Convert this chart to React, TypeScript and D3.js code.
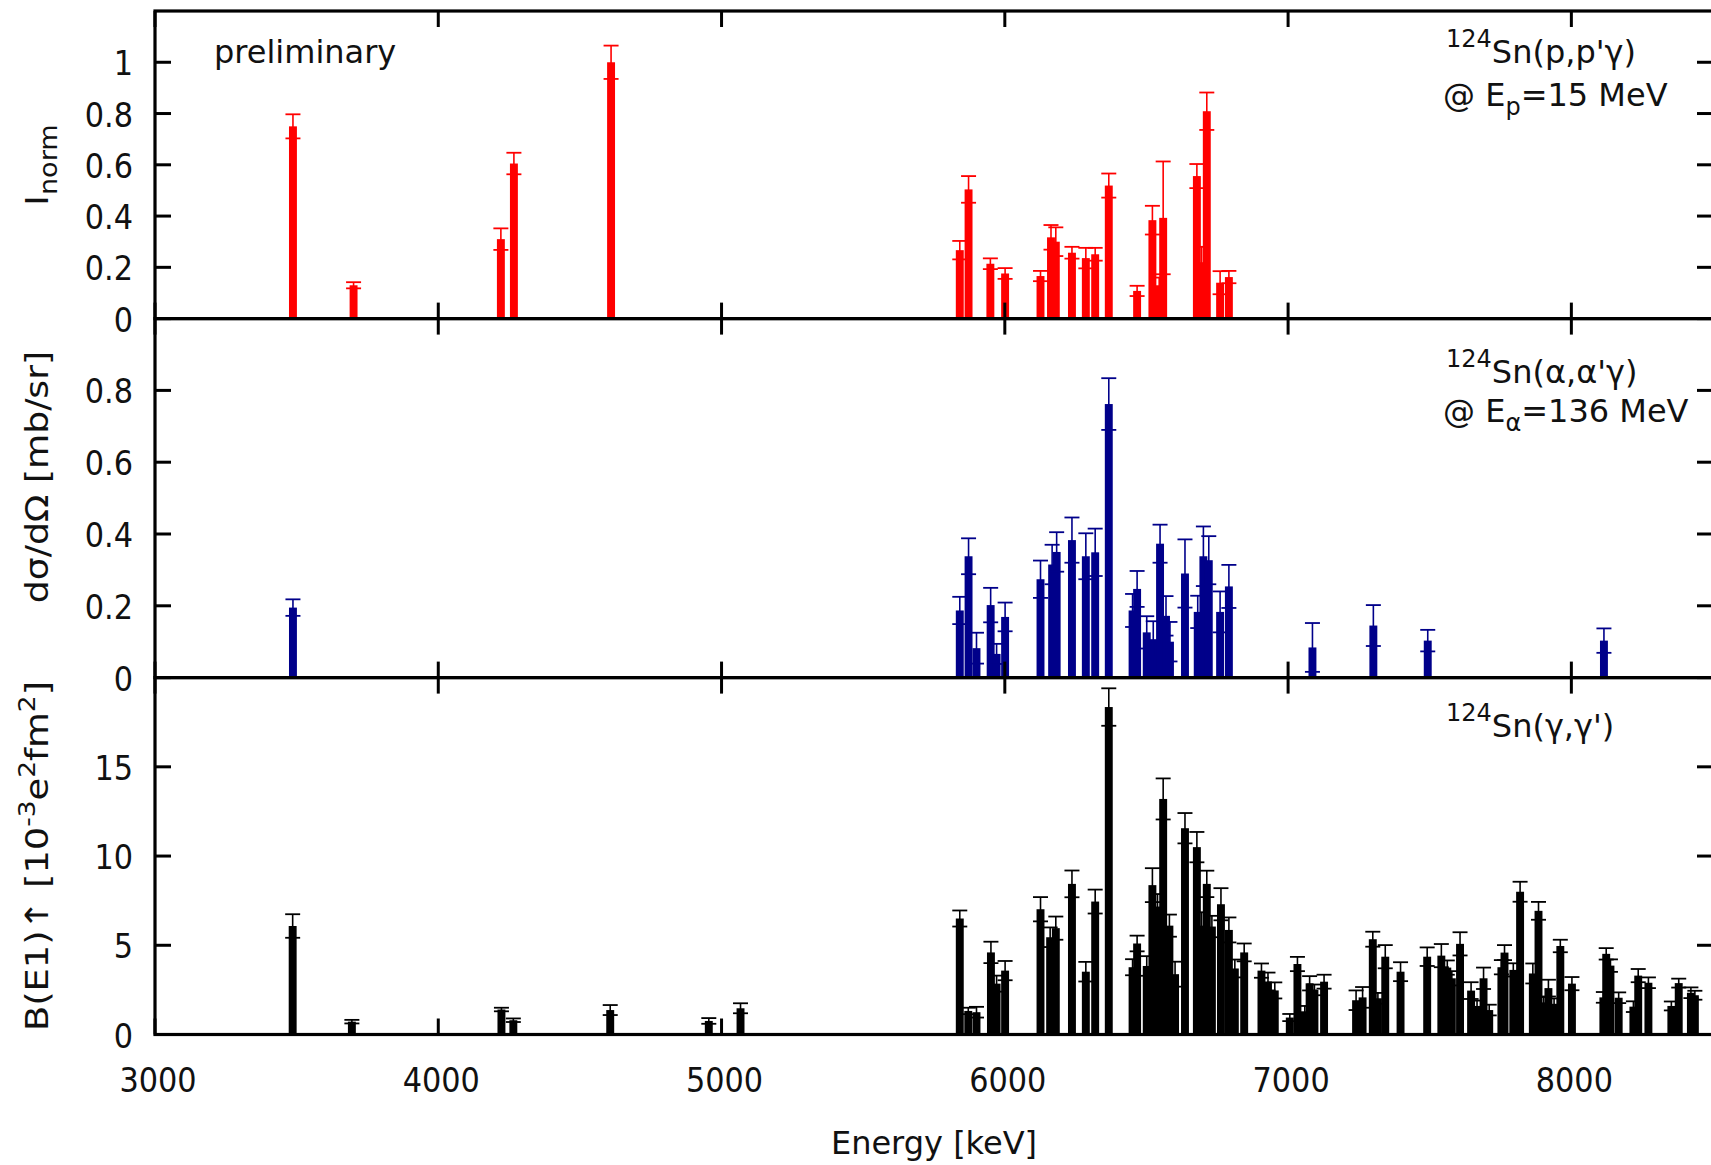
import React from "react";
import * as d3 from "d3";

// 124Sn(p,p'γ) @ Ep = 15 MeV : level energy [keV], normalised intensity, uncertainty
const ppEnergy = [3487, 3701, 4221, 4267, 4610, 5841, 5872, 5949, 6001, 6126, 6163, 6180, 6237, 6286, 6319, 6367, 6467, 6521, 6545, 6559, 6678, 6695, 6713, 6760, 6791];
const ppValue = [0.75, 0.13, 0.31, 0.605, 1.0, 0.267, 0.504, 0.214, 0.176, 0.166, 0.317, 0.3, 0.257, 0.236, 0.251, 0.519, 0.108, 0.384, 0.13, 0.393, 0.556, 0.22, 0.809, 0.14, 0.162];
const ppError = [0.047, 0.012, 0.042, 0.042, 0.065, 0.036, 0.052, 0.021, 0.021, 0.02, 0.048, 0.056, 0.023, 0.04, 0.025, 0.047, 0.02, 0.056, 0.03, 0.22, 0.047, 0.06, 0.073, 0.045, 0.024];

// 124Sn(α,α'γ) @ Eα = 136 MeV : level energy [keV], dσ/dΩ [mb/sr], uncertainty
const aaEnergy = [3487, 5841, 5872, 5900, 5950, 5971, 6001, 6126, 6167, 6183, 6237, 6286, 6319, 6367, 6451, 6467, 6501, 6524, 6548, 6569, 6583, 6636, 6681, 6701, 6720, 6760, 6791, 7086, 7301, 7493, 8115];
const aaValue = [0.195, 0.187, 0.338, 0.082, 0.202, 0.066, 0.169, 0.274, 0.315, 0.35, 0.383, 0.338, 0.349, 0.762, 0.187, 0.247, 0.126, 0.107, 0.373, 0.172, 0.1, 0.29, 0.183, 0.338, 0.327, 0.183, 0.254, 0.084, 0.145, 0.103, 0.103];
const aaError = [0.023, 0.038, 0.05, 0.043, 0.048, 0.028, 0.04, 0.052, 0.055, 0.055, 0.063, 0.064, 0.066, 0.072, 0.046, 0.05, 0.045, 0.05, 0.053, 0.055, 0.055, 0.095, 0.045, 0.083, 0.067, 0.057, 0.06, 0.068, 0.057, 0.03, 0.034];

// 124Sn(γ,γ') : level energy [keV], B(E1)↑ [10^-3 e^2 fm^2], uncertainty
const ggEnergy = [3486, 3695, 4223, 4265, 4607, 4955, 5067, 5841, 5871, 5900, 5951, 5971, 6001, 6126, 6160, 6180, 6237, 6286, 6319, 6367, 6451, 6467, 6501, 6521, 6539, 6559, 6581, 6601, 6636, 6678, 6695, 6713, 6731, 6763, 6791, 6812, 6845, 6906, 6929, 6953, 7006, 7033, 7059, 7076, 7093, 7127, 7240, 7263, 7299, 7317, 7343, 7397, 7491, 7541, 7562, 7578, 7607, 7646, 7667, 7690, 7710, 7753, 7764, 7795, 7819, 7864, 7884, 7902, 7919, 7939, 7961, 8002, 8113, 8123, 8138, 8167, 8219, 8236, 8272, 8353, 8379, 8422, 8436];
const ggValue = [6.08, 0.72, 1.4, 0.8, 1.37, 0.76, 1.47, 6.5, 1.32, 1.25, 4.6, 2.85, 3.58, 7.02, 5.45, 5.96, 8.44, 3.52, 7.45, 18.35, 3.77, 5.1, 3.84, 8.37, 7.17, 13.2, 6.1, 3.38, 11.56, 10.5, 6.1, 8.44, 6.05, 7.3, 5.86, 3.7, 4.6, 3.58, 2.97, 2.47, 0.95, 3.95, 1.3, 2.87, 2.5, 2.96, 1.92, 2.08, 5.34, 2.03, 4.36, 3.52, 4.36, 4.42, 3.75, 3.15, 5.08, 2.46, 1.6, 3.15, 1.37, 3.77, 4.59, 3.62, 8.0, 3.42, 6.93, 1.8, 2.6, 1.72, 4.96, 2.85, 2.08, 4.52, 3.86, 2.06, 1.56, 3.3, 2.9, 1.6, 2.88, 2.34, 2.2];
const ggError = [0.66, 0.1, 0.1, 0.1, 0.28, 0.16, 0.28, 0.45, 0.18, 0.3, 0.6, 0.45, 0.54, 0.68, 0.55, 0.65, 0.75, 0.55, 0.67, 1.05, 0.45, 0.44, 0.55, 0.95, 0.7, 1.15, 0.62, 0.7, 0.85, 0.85, 0.75, 0.74, 0.6, 0.9, 0.7, 0.5, 0.5, 0.4, 0.5, 0.45, 0.2, 0.4, 0.3, 0.4, 0.3, 0.39, 0.55, 0.58, 0.42, 0.3, 0.65, 0.53, 0.52, 0.65, 0.4, 0.4, 0.65, 0.47, 0.3, 0.6, 0.3, 0.4, 0.42, 0.37, 0.56, 0.56, 0.5, 0.3, 0.47, 0.3, 0.35, 0.37, 0.3, 0.32, 0.35, 0.3, 0.3, 0.37, 0.3, 0.25, 0.25, 0.3, 0.25];

// Axis ticks
const energyTicks = [3000, 4000, 5000, 6000, 7000, 8000];
const ppTicks = [0, 0.2, 0.4, 0.6, 0.8, 1];
const aaTicks = [0, 0.2, 0.4, 0.6, 0.8];
const ggTicks = [0, 5, 10, 15];

const W = 1711;
const H = 1165;
const LEFT = 155;
const RIGHT = 1713;
const FONT = "DejaVu Sans";
const BAR_KEV = 28;
const CAP = 15;
const TICK = 16;
const TICK_FONT = 33;
const NARROW = 0.92;

const x = d3.scaleLinear().domain([3000, 8500]).range([LEFT, RIGHT]);

type Panel = {
  top: number;
  bottom: number;
  max: number;
  ticks: number[];
  color: string;
  energy: number[];
  value: number[];
  error: number[];
};

const panels: Panel[] = [
  { top: 11, bottom: 318.6, max: 1.2, ticks: ppTicks, color: "#ff0000", energy: ppEnergy, value: ppValue, error: ppError },
  { top: 318.6, bottom: 677.6, max: 1.0, ticks: aaTicks, color: "#00008a", energy: aaEnergy, value: aaValue, error: aaError },
  { top: 677.6, bottom: 1034.5, max: 20, ticks: ggTicks, color: "#000000", energy: ggEnergy, value: ggValue, error: ggError },
];

function TickLabel({ tx, ty, anchor, label }: { tx: number; ty: number; anchor: string; label: string }) {
  return (
    <text
      transform={`translate(${tx},${ty}) scale(${NARROW},1)`}
      textAnchor={anchor}
      fontFamily={FONT}
      fontSize={TICK_FONT}
      fill="#111"
    >
      {label}
    </text>
  );
}

function PanelView({ p }: { p: Panel }) {
  const y = d3.scaleLinear().domain([0, p.max]).range([p.bottom, p.top]);
  const bw = x(3000 + BAR_KEV) - x(3000);
  return (
    <g>
      {p.energy.map((e, i) => {
        const cx = x(e);
        const v = p.value[i];
        const err = p.error[i];
        const yTop = y(v);
        const yHi = y(v + err);
        const yLo = y(Math.max(0, v - err));
        return (
          <g key={i}>
            <rect x={cx - bw / 2} y={yTop} width={bw} height={y(0) - yTop} fill={p.color} />
            <line x1={cx} x2={cx} y1={yHi} y2={yLo} stroke={p.color} strokeWidth={1.6} />
            <line x1={cx - CAP / 2} x2={cx + CAP / 2} y1={yHi} y2={yHi} stroke={p.color} strokeWidth={1.8} />
            <line x1={cx - CAP / 2} x2={cx + CAP / 2} y1={yLo} y2={yLo} stroke={p.color} strokeWidth={1.8} />
          </g>
        );
      })}
      <rect x={LEFT} y={p.top} width={RIGHT - LEFT} height={p.bottom - p.top} fill="none" stroke="#000" strokeWidth={3.2} />
      {energyTicks.map((t) => (
        <g key={"x" + t}>
          <line x1={x(t)} x2={x(t)} y1={p.top} y2={p.top + TICK} stroke="#000" strokeWidth={3} />
          <line x1={x(t)} x2={x(t)} y1={p.bottom} y2={p.bottom - TICK} stroke="#000" strokeWidth={3} />
        </g>
      ))}
      {p.ticks.map((t) => (
        <g key={"y" + t}>
          <line x1={LEFT} x2={LEFT + TICK} y1={y(t)} y2={y(t)} stroke="#000" strokeWidth={3} />
          <line x1={RIGHT} x2={RIGHT - TICK} y1={y(t)} y2={y(t)} stroke="#000" strokeWidth={3} />
          <TickLabel tx={133} ty={y(t) + 13} anchor="end" label={String(t)} />
        </g>
      ))}
    </g>
  );
}

export default function App() {
  const bottom = panels[2];
  return (
    <svg
      width={W}
      height={H}
      viewBox={`0 0 ${W} ${H}`}
      style={{ position: "absolute", left: 0, top: 0, display: "block", background: "#fff" }}
    >
      <rect x={0} y={0} width={W} height={H} fill="#fff" />
      {panels.map((p, i) => (
        <PanelView key={i} p={p} />
      ))}

      {/* energy axis labels */}
      {energyTicks.map((t) => (
        <TickLabel key={t} tx={x(t) + 3} ty={bottom.bottom + 57} anchor="middle" label={String(t)} />
      ))}
      <text x={934} y={1154} textAnchor="middle" fontFamily={FONT} fontSize={32} fill="#111">
        Energy [keV]
      </text>

      {/* y axis titles */}
      <text transform="translate(48,165) scale(1,1.13) rotate(-90)" textAnchor="middle" fontFamily={FONT} fontSize={32} fill="#111">
        I<tspan dy={9} fontSize={24}>norm</tspan>
      </text>
      <text transform="translate(48,477) scale(1,1.13) rotate(-90)" textAnchor="middle" fontFamily={FONT} fontSize={32} fill="#111">
        dσ/dΩ [mb/sr]
      </text>
      <text transform="translate(48,856) scale(1,1.15) rotate(-90)" textAnchor="middle" fontFamily={FONT} fontSize={32} fill="#111">
        {"B(E1)\u2191 [10"}
        <tspan dy={-13} fontSize={23}>-3</tspan>
        <tspan dy={13}>e</tspan>
        <tspan dy={-13} fontSize={23}>2</tspan>
        <tspan dy={13}>fm</tspan>
        <tspan dy={-13} fontSize={23}>2</tspan>
        <tspan dy={13}>]</tspan>
      </text>

      {/* annotations */}
      <text x={214} y={62.5} fontFamily={FONT} fontSize={32} fill="#111">
        preliminary
      </text>

      <text x={1446} y={63} fontFamily={FONT} fontSize={32} fill="#111">
        <tspan dy={-16} fontSize={24}>124</tspan>
        <tspan dy={16}>Sn(p,p'γ)</tspan>
      </text>
      <text x={1443} y={106} fontFamily={FONT} fontSize={32} fill="#111">
        {"@ E"}
        <tspan dy={9} fontSize={24}>p</tspan>
        <tspan dy={-9}>=15 MeV</tspan>
      </text>

      <text x={1446} y={383} fontFamily={FONT} fontSize={32} fill="#111">
        <tspan dy={-16} fontSize={24}>124</tspan>
        <tspan dy={16}>Sn(α,α'γ)</tspan>
      </text>
      <text x={1443} y={421.5} fontFamily={FONT} fontSize={32} fill="#111">
        {"@ E"}
        <tspan dy={9} fontSize={24}>α</tspan>
        <tspan dy={-9}>=136 MeV</tspan>
      </text>

      <text x={1446} y={736.5} fontFamily={FONT} fontSize={32} fill="#111">
        <tspan dy={-16} fontSize={24}>124</tspan>
        <tspan dy={16}>Sn(γ,γ')</tspan>
      </text>
    </svg>
  );
}
